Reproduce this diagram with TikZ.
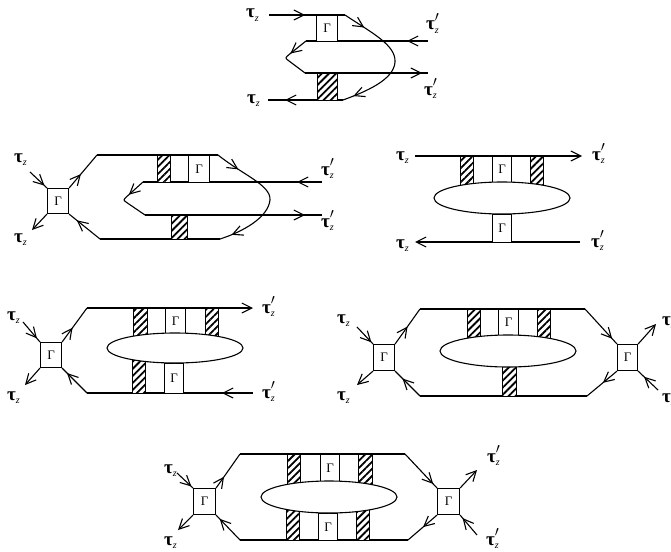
\documentclass[tikz,border=0pt]{standalone}
\usepackage{fontspec}
\setmainfont{Liberation Serif}
\usetikzlibrary{arrows.meta,decorations.markings,patterns.meta,shapes.geometric}
\newcommand{\tz}{\textbf{τ}\raisebox{-0.45ex}{\fontsize{10}{10}\selectfont\textit{z}}}
\newcommand{\tzp}{\textbf{τ}\rlap{\raisebox{0.2ex}{$^{\prime}$}}\raisebox{-0.45ex}{\fontsize{10}{10}\selectfont\textit{z}}}
\tikzset{
  myv/.tip={Straight Barb[length=10pt,width=10pt]},
  ln/.style={line width=1.1pt},
  am/.style={postaction={decorate,decoration={markings,mark=at position #1 with {\arrow{myv}}}}},
  gb/.style={draw,line width=1.1pt,fill=white,inner sep=0,anchor=north west,font=\fontsize{13}{13}\selectfont},
  hb/.style={draw,line width=1.1pt,inner sep=0,anchor=north west,preaction={fill=white},pattern={Lines[angle=45,distance=5pt,line width=1.8pt]}},
  el/.style={draw,line width=1.1pt,fill=white,ellipse,inner sep=0,minimum width=136pt},
  lab/.style={inner sep=0,anchor=base west,font=\fontsize{19}{19}\selectfont}
}
\begin{document}
\begin{tikzpicture}[x=1pt,y=-1pt]
\useasboundingbox (0,0) rectangle (671,551);
% ================= Diagram 1 =================
\draw[ln,am=36pt] (269,15) -- (345,15);
\draw[ln,am=23pt,am=0.92] (345,15) .. controls (372,33) and (396,45) .. (395,62) .. controls (394,80) and (365,92) .. (343,100);
\draw[ln,am=21pt] (428,41) -- (306,41);
\draw[ln,am=20pt] (306,41) -- (289,54.6) .. controls (285,58) .. (289,61) -- (305,73);
\draw[ln,am=117pt] (305,73) -- (428,73);
\draw[ln,am=58pt] (343,100) -- (268,100);
\node[gb,minimum width=21pt,minimum height=26pt] (d1g) at (316,15) {Γ};
\node[hb,minimum width=20pt,minimum height=27pt] (d1h) at (317,73) {};
\node[lab] (d1ta) at (246,18) {\tz};
\node[lab] (d1tb) at (247,103) {\tz};
\node[lab] (d1tc) at (426,30) {\tzp};
\node[lab] (d1td) at (424,95) {\tzp};
% ================= Diagram 2 =================
\node[gb,minimum width=21pt,minimum height=25pt] (d2L) at (47,188) {Γ};
\draw[ln,am=0.85] (30,172) -- (d2L.north west);
\draw[ln,-myv] (d2L.south west) -- (32,230);
\draw[ln,am=0.42] (d2L.north east) -- (97,155);
\draw[ln,am=0.75] (100,239) -- (d2L.south east);
\draw[ln] (97,155) -- (218,155);
\draw[ln] (100,239) -- (220,239);
\draw[ln,am=25pt] (322,182) -- (143,182);
\draw[ln,am=19pt] (143,182) -- (127,196.4) .. controls (123,200) .. (127.4,203) -- (145,215);
\draw[ln,am=160pt] (145,215) -- (322,215);
\draw[ln,am=25pt,am=0.91] (218,155) .. controls (243,175) and (271,185) .. (270,200) .. controls (268,218) and (242,232) .. (220,239);
\node[hb,minimum width=13pt,minimum height=27pt] (d2h1) at (157,155) {};
\node[gb,minimum width=21pt,minimum height=27pt] (d2g1) at (188,155) {Γ};
\node[hb,minimum width=16pt,minimum height=24pt] (d2h2) at (171,215) {};
\node[lab] (d2ta) at (14,162) {\tz};
\node[lab] (d2tb) at (14,242) {\tz};
\node[lab] (d2tc) at (321,175) {\tzp};
\node[lab] (d2td) at (321,227) {\tzp};
% ================= Diagram 3 =================
\draw[ln,-myv] (415,156) -- (582,156);
\draw[ln,-myv] (580,242) -- (415,242);
\node[hb,minimum width=13pt,minimum height=42pt] (d3h1) at (460,156) {};
\node[hb,minimum width=13pt,minimum height=42pt] (d3h2) at (530,156) {};
\node[gb,minimum width=19pt,minimum height=26pt] (d3g1) at (492,156) {Γ};
\node[gb,minimum width=19pt,minimum height=28pt] (d3g2) at (492,214) {Γ};
\node[el,minimum height=32pt] (d3e) at (502,198) {};
\node[lab] (d3ta) at (396,160) {\tz};
\node[lab] (d3tb) at (592,160) {\tzp};
\node[lab] (d3tc) at (396,248) {\tz};
\node[lab] (d3td) at (591,247) {\tzp};
% ================= Diagram 4 =================
\node[gb,minimum width=21pt,minimum height=25pt] (d4L) at (40,342) {Γ};
\draw[ln,am=0.82] (23,322) -- (d4L.north west);
\draw[ln,-myv] (d4L.south west) -- (25,385);
\draw[ln,am=0.42] (d4L.north east) -- (87,308);
\draw[ln,am=0.8] (87,393) -- (d4L.south east);
\draw[ln,-myv] (87,308) -- (253,308);
\draw[ln,am=31pt] (253,393) -- (87,393);
\node[hb,minimum width=14pt,minimum height=40pt] (d4h1) at (133,308) {};
\node[hb,minimum width=13pt,minimum height=40pt] (d4h2) at (205,308) {};
\node[gb,minimum width=20pt,minimum height=25pt] (d4g1) at (165,308) {Γ};
\node[hb,minimum width=13pt,minimum height=45pt] (d4h3) at (132,348) {};
\node[gb,minimum width=19pt,minimum height=30pt] (d4g2) at (164,363) {Γ};
\node[el,minimum height=30pt] (d4e) at (175,348) {};
\node[lab] (d4ta) at (7,320) {\tz};
\node[lab] (d4tb) at (7,400) {\tz};
\node[lab] (d4tc) at (262,313) {\tzp};
\node[lab] (d4td) at (262,398) {\tzp};
% ================= Diagram 5 =================
\node[gb,minimum width=21pt,minimum height=26pt] (d5L) at (373,344) {Γ};
\node[gb,minimum width=20pt,minimum height=26pt] (d5R) at (617,344) {Γ};
\draw[ln,am=0.9] (357,327) -- (d5L.north west);
\draw[ln,-myv] (d5L.south west) -- (357,385);
\draw[ln,am=0.5] (d5L.north east) -- (420,309);
\draw[ln,am=0.7] (420,396) -- (d5L.south east);
\draw[ln] (420,309) -- (585,309);
\draw[ln] (420,396) -- (587,396);
\draw[ln,am=0.85] (585,309) -- (d5R.north west);
\draw[ln,am=0.47] (d5R.south west) -- (587,396);
\draw[ln,-myv] (d5R.north east) -- (656,324);
\draw[ln,am=0.7] (658,390) -- (d5R.south east);
\node[hb,minimum width=13pt,minimum height=42pt] (d5h1) at (467,309) {};
\node[hb,minimum width=13pt,minimum height=42pt] (d5h2) at (537,309) {};
\node[gb,minimum width=20pt,minimum height=26pt] (d5g1) at (498,309) {Γ};
\node[hb,minimum width=14pt,minimum height=45pt] (d5h3) at (502,351) {};
\node[el,minimum height=32pt] (d5e) at (508,351) {};
\node[lab] (d5ta) at (337,323) {\tz};
\node[lab] (d5tb) at (337,400) {\tz};
\node[lab] (d5tc) at (662,325) {\tzp};
\node[lab] (d5td) at (662,402) {\tzp};
% ================= Diagram 6 =================
\node[gb,minimum width=22pt,minimum height=26pt] (d6L) at (193,488) {Γ};
\node[gb,minimum width=22pt,minimum height=26pt] (d6R) at (437,488) {Γ};
\draw[ln,am=0.9] (177,473) -- (d6L.north west);
\draw[ln,-myv] (d6L.south west) -- (178,530);
\draw[ln,am=0.33] (d6L.north east) -- (240,454);
\draw[ln,am=0.85] (240,540) -- (d6L.south east);
\draw[ln] (240,454) -- (405,454);
\draw[ln] (240,540) -- (408,540);
\draw[ln,am=0.88] (405,454) -- (d6R.north west);
\draw[ln,am=0.48] (d6R.south west) -- (408,540);
\draw[ln,-myv] (d6R.north east) -- (477,470);
\draw[ln,am=0.85] (477,535) -- (d6R.south east);
\node[hb,minimum width=13pt,minimum height=43pt] (d6h1) at (287,454) {};
\node[hb,minimum width=14pt,minimum height=43pt] (d6h2) at (358,454) {};
\node[gb,minimum width=19pt,minimum height=27pt] (d6g1) at (320,454) {Γ};
\node[hb,minimum width=13pt,minimum height=43pt] (d6h3) at (286,497) {};
\node[hb,minimum width=13pt,minimum height=43pt] (d6h4) at (356,497) {};
\node[gb,minimum width=19pt,minimum height=27pt] (d6g2) at (318,513) {Γ};
\node[el,minimum height=32pt] (d6e) at (329,497) {};
\node[lab] (d6ta) at (164,473) {\tz};
\node[lab] (d6tb) at (164,545) {\tz};
\node[lab] (d6tc) at (487,462) {\tzp};
\node[lab] (d6td) at (486,545) {\tzp};
\end{tikzpicture}
\end{document}
